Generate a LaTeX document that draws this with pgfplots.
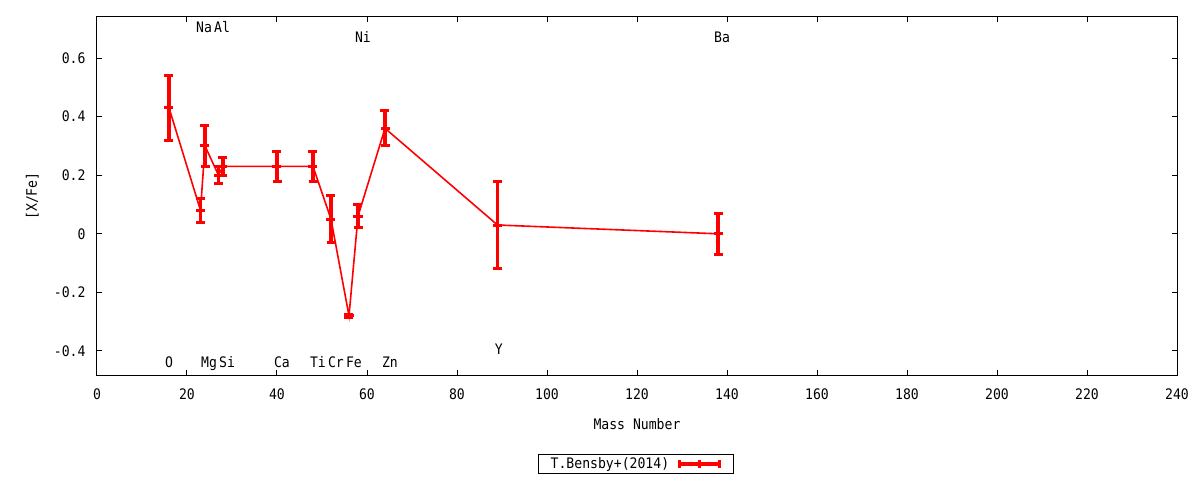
\documentclass[border=0pt]{standalone}
\usepackage{pgfplots}
\pgfplotsset{compat=1.18}
\usepackage{fontspec}
\setmainfont{DejaVu Sans Mono}[FakeStretch=0.905]

\pgfplotstableread{
x    y      e
16   0.43   0.11
23   0.08   0.04
24   0.30   0.07
27   0.20   0.03
28   0.23   0.03
40   0.23   0.05
48   0.23   0.05
52   0.05   0.08
56  -0.28   0.005
58   0.06   0.04
64   0.36   0.06
89   0.03   0.15
138  0.00   0.07
}\bensby

\begin{document}
\begin{tikzpicture}[font=\fontsize{14.5}{17}\selectfont,
  elem/.style={anchor=base west, inner sep=0pt}]
\begin{axis}[
  scale only axis,
  width=1080pt, height=358pt,
  xmin=0, xmax=240, ymin=-0.482, ymax=0.74,
  xtick={0,20,40,60,80,100,120,140,160,180,200,220,240},
  xticklabels={0,20,40,60,80,100,120,140,160,180,200,220,240},
  ytick={-0.4,-0.2,0,0.2,0.4,0.6},
  yticklabels={-0.4,-0.2,0,0.2,0.4,0.6},
  tick align=inside,
  major tick length=5pt,
  axis line style={line width=1pt},
  every tick/.style={black, line width=1pt},
  yticklabel style={xshift=-8pt},
  xticklabel style={yshift=-10pt},
  xlabel={Mass Number},
  ylabel={[X/Fe]},
  xlabel style={at={(axis description cs:0.5,-0.137)}, anchor=center},
  ylabel style={at={(axis description cs:-0.06,0.5)}, anchor=center},
  legend plot pos=right,
  legend style={at={(axis description cs:0.499,-0.249)}, anchor=center,
    draw=black, line width=1pt, inner xsep=10pt, inner ysep=1.5pt,
    column sep=5pt, cells={anchor=west}},
  legend image code/.code={
    \draw[red, line width=4pt] (0pt,0pt) -- (43pt,0pt);
    \draw[red, line width=3pt] (1.5pt,-4pt) -- (1.5pt,4pt)
      (21.5pt,-4pt) -- (21.5pt,4pt) (41.5pt,-4pt) -- (41.5pt,4pt);
  },
]
\addplot[red, line width=1.6pt, mark=-, mark size=4.5pt,
  mark options={line width=3pt},
  error bars/.cd, y dir=both, y explicit,
  error bar style={line width=3.5pt},
  error mark options={rotate=90, line width=3pt, mark size=4.5pt}]
  table[x=x, y=y, y error=e] {\bensby};
\addlegendentry{T.Bensby+(2014)}

\coordinate (bl) at (rel axis cs:0,0);

\node[elem] at (axis cs:22.0,0.687) {Na};
\node[elem] at (axis cs:26.0,0.687) {Al};
\node[elem] at (axis cs:57.3,0.652) {Ni};
\node[elem] at (axis cs:137.1,0.652) {Ba};
\node[elem] at (axis cs:15.1,-0.458) {O};
\node[elem] at (axis cs:23.1,-0.458) {Mg};
\node[elem] at (axis cs:27.1,-0.458) {Si};
\node[elem] at (axis cs:39.3,-0.458) {Ca};
\node[elem] at (axis cs:47.3,-0.458) {Ti};
\node[elem] at (axis cs:51.3,-0.458) {Cr};
\node[elem] at (axis cs:55.3,-0.458) {Fe};
\node[elem] at (axis cs:63.3,-0.458) {Zn};
\node[elem] at (axis cs:88.4,-0.413) {Y};
\end{axis}
\pgfresetboundingbox
\path (bl) ++(-97pt,-105pt) rectangle ++(1200pt,480pt);
\end{tikzpicture}
\end{document}
